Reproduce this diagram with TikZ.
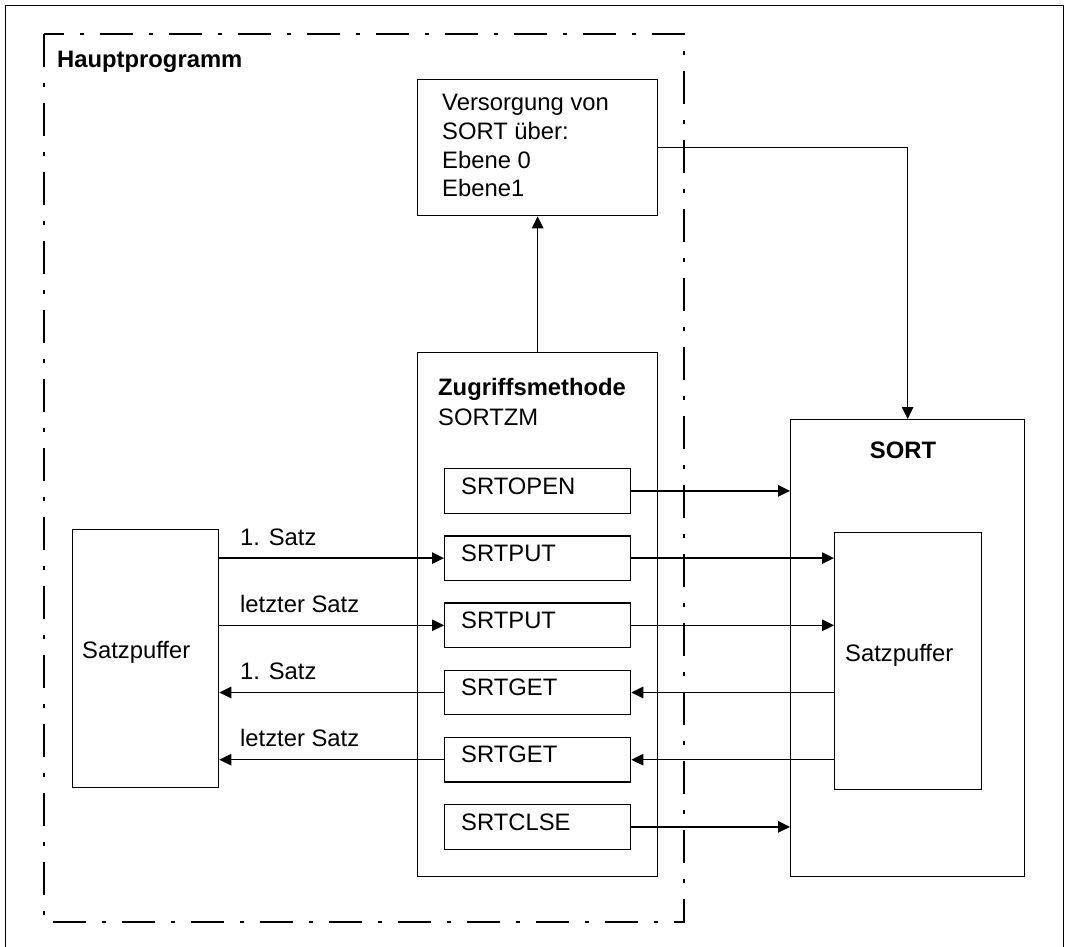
\documentclass[tikz,border=0pt]{standalone}
\usepackage{fontspec}
\setmainfont{Liberation Sans}
\usetikzlibrary{arrows.meta}

\tikzset{
  base/.style={line width=1.3pt},
  box/.style={draw, base, rectangle, inner sep=0pt, anchor=north west},
  txt/.style={inner sep=0pt, anchor=base west, font=\fontsize{23.8}{28.5}\selectfont},
  btxt/.style={txt, font=\fontsize{23.8}{28.5}\selectfont\bfseries},
  arr/.style={base, -{Triangle[length=12pt,width=11.5pt]}},
  dashdot/.style={base, dash pattern=on 33pt off 16pt on 4pt off 16pt}
}

\begin{document}
\begin{tikzpicture}[x=1pt, y=-1pt]
  \useasboundingbox (0,0) rectangle (1068,947);

  % open outer frame
  \draw[base] (5.5,947) -- (5.5,5.5) -- (1063.5,5.5) -- (1063.5,947);

  % main program boundary
  \draw[dashdot] (44,34) rectangle (684,922);
  \node[btxt] (hp) at (57,68) {Hauptprogramm};

  % supply box
  \node[box, minimum width=240pt, minimum height=136pt] (vers) at (417,79) {};
  \node[txt] (v1) at (442,111) {Versorgung von};
  \node[txt] (v2) at (442,139.5) {SORT über:};
  \node[txt] (v3) at (442,168) {Ebene 0};
  \node[txt] (v4) at (442,196.5) {Ebene1};

  % access method
  \node[box, minimum width=240pt, minimum height=524pt] (zm) at (417,352) {};
  \node[btxt] (zmT) at (438,395) {Zugriffsmethode};
  \node[txt] (zmN) at (438,425) {SORTZM};

  % calls inside the access method
  \foreach \n/\t/\k in {open/SRTOPEN/0, put1/SRTPUT/1, put2/SRTPUT/2,
                        get1/SRTGET/3, get2/SRTGET/4, clse/SRTCLSE/5}{
    \node[box, minimum width=186pt, minimum height=44.5pt] (\n) at (444,468+67.2*\k) {};
    \node[txt] (\n T) at (461,494+67.2*\k) {\t};
  }

  % SORT
  \node[box, minimum width=234pt, minimum height=457pt] (sort) at (790,419) {};
  \node[btxt, anchor=base] (sortT) at (903,458) {SORT};
  \node[box, minimum width=147pt, minimum height=257pt] (sbR) at (834,532) {};
  \node[txt] (sbRT) at (845,661) {Satzpuffer};

  % record buffer of the main program
  \node[box, minimum width=146pt, minimum height=258pt] (sbL) at (72,529) {};
  \node[txt] (sbLT) at (82,658) {Satzpuffer};

  % connectors
  \draw[arr] (zm.north) -- (vers.south);
  \draw[arr] (vers.east) -| (sort.north);

  \draw[arr] (open.east) -- (open.east -| sort.west);
  \draw[arr] (put1.east) -- (put1.east -| sbR.west);
  \draw[arr] (put2.east) -- (put2.east -| sbR.west);
  \draw[arr] (get1.east -| sbR.west) -- (get1.east);
  \draw[arr] (get2.east -| sbR.west) -- (get2.east);
  \draw[arr] (clse.east) -- (clse.east -| sort.west);

  \draw[arr] (put1.west -| sbL.east) -- (put1.west);
  \draw[arr] (put2.west -| sbL.east) -- (put2.west);
  \draw[arr] (get1.west) -- (get1.west -| sbL.east);
  \draw[arr] (get2.west) -- (get2.west -| sbL.east);

  % transfer labels
  \node[txt] (l1) at (240,545) {1. Satz};
  \node[txt] (l2) at (240,612) {letzter Satz};
  \node[txt] (l3) at (240,679) {1. Satz};
  \node[txt] (l4) at (240,746) {letzter Satz};
\end{tikzpicture}
\end{document}
